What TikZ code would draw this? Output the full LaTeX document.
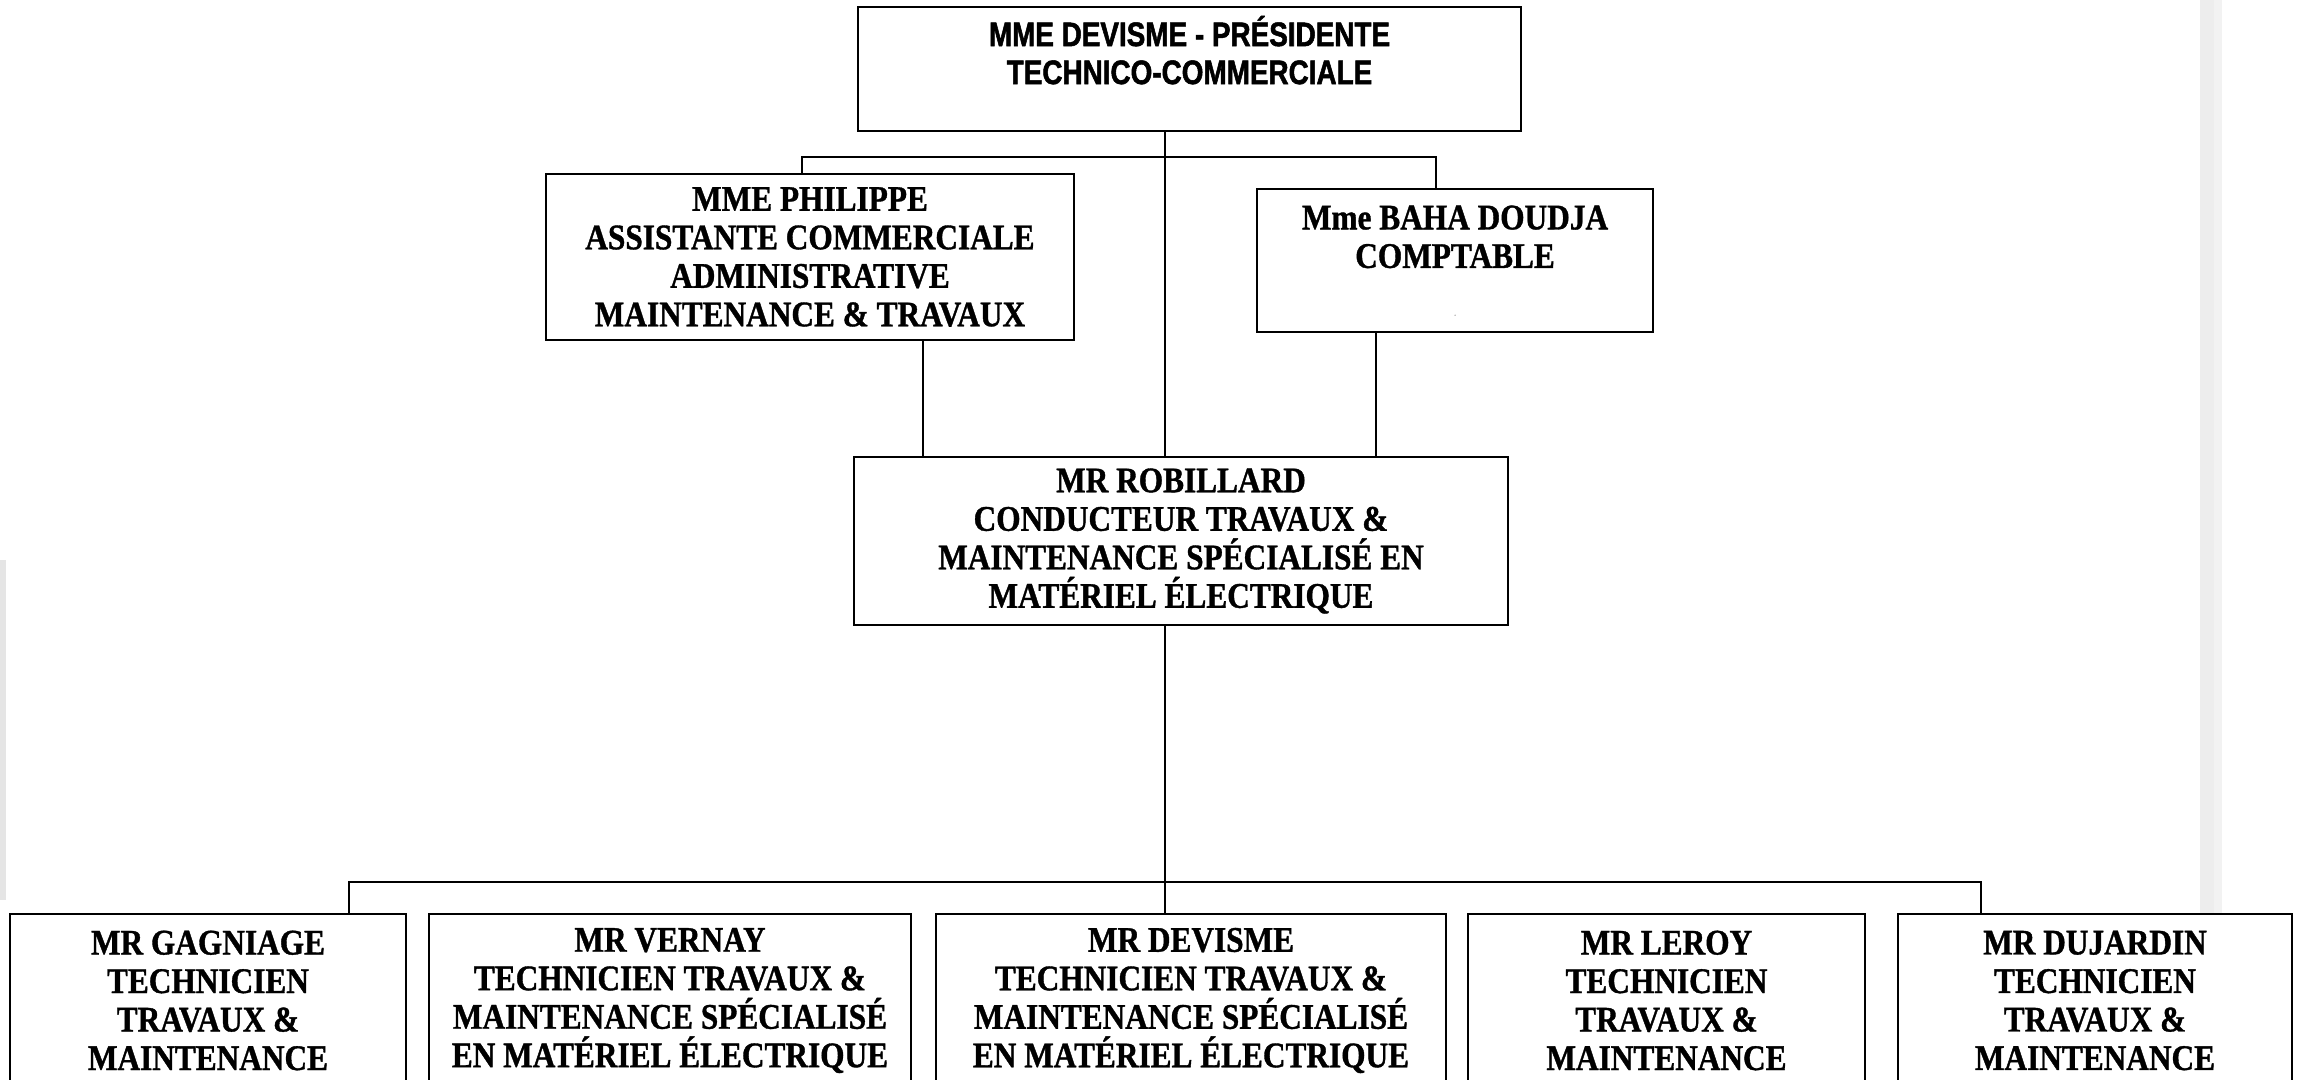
\documentclass[tikz,border=0pt]{standalone}
\usepackage{fontspec}
\setmainfont{Liberation Serif}[FakeStretch=0.87,FakeBold=1]
\newfontfamily\titlesans{Liberation Sans}[FakeStretch=0.82,FakeBold=1.5]
\begin{document}
\begin{tikzpicture}[x=1pt,y=-1pt,
  orgbox/.style={draw=black,line width=2pt,fill=white,anchor=north west,inner sep=0pt,
    align=center,font=\fontsize{36}{38.5}\selectfont\bfseries},
  titlebox/.style={orgbox,font=\fontsize{34}{38}\selectfont\titlesans\bfseries},
  link/.style={draw=black,line width=1.8pt},
  thinlink/.style={draw=black,line width=1.4pt}]
\useasboundingbox (0,0) rectangle (2298,1079);
\clip (0,0) rectangle (2298,1079);
% faint background streaks
\fill[black!7] (2200,0) rectangle (2214,1079);
\fill[black!5] (2214,0) rectangle (2222,1079);
\fill[black!10] (0,560) rectangle (6,900);

\node[titlebox,minimum width=663pt,minimum height=124pt] (top) at (857,6)
  {MME DEVISME - PRÉSIDENTE\\TECHNICO-COMMERCIALE\\\mbox{}};
\node[orgbox,minimum width=528pt,minimum height=166pt] (phil) at (545,173)
  {MME PHILIPPE\\ASSISTANTE COMMERCIALE\\ADMINISTRATIVE\\MAINTENANCE \& TRAVAUX};
\node[orgbox,minimum width=396pt,minimum height=143pt] (baha) at (1256,188)
  {Mme BAHA DOUDJA\\COMPTABLE\\[9pt]{\fontsize{4}{5}\selectfont .}};
\node[orgbox,minimum width=654pt,minimum height=168pt] (rob) at (853,456)
  {MR ROBILLARD\\CONDUCTEUR TRAVAUX \&\\MAINTENANCE SPÉCIALISÉ EN\\MATÉRIEL ÉLECTRIQUE};

\node[orgbox,minimum width=396pt,minimum height=173pt] (gag) at (9,913)
  {MR GAGNIAGE\\TECHNICIEN\\TRAVAUX \&\\MAINTENANCE};
\node[orgbox,minimum width=482pt,minimum height=173pt] (ver) at (428,913)
  {MR VERNAY\\TECHNICIEN TRAVAUX \&\\MAINTENANCE SPÉCIALISÉ\\EN MATÉRIEL ÉLECTRIQUE};
\node[orgbox,minimum width=510pt,minimum height=173pt] (dev) at (935,913)
  {MR DEVISME\\TECHNICIEN TRAVAUX \&\\MAINTENANCE SPÉCIALISÉ\\EN MATÉRIEL ÉLECTRIQUE};
\node[orgbox,minimum width=397pt,minimum height=173pt] (ler) at (1467,913)
  {MR LEROY\\TECHNICIEN\\TRAVAUX \&\\MAINTENANCE};
\node[orgbox,minimum width=394pt,minimum height=173pt] (duj) at (1897,913)
  {MR DUJARDIN\\TECHNICIEN\\TRAVAUX \&\\MAINTENANCE};

% upper bus
\coordinate (bA) at (1165,157);
\coordinate (bL) at (802,157);
\coordinate (bR) at (1436,157);
\coordinate (xP) at (923,0);
\coordinate (xB) at (1376,0);
\draw[link] (top.south -| bA) -- (rob.north -| bA);
\draw[link] (phil.north -| bL) -- (bL) -- (bR) -- (baha.north -| bR);
\draw[link] (phil.south -| xP) -- (rob.north -| xP);
\draw[link] (baha.south -| xB) -- (rob.north -| xB);

% lower bus
\coordinate (cM) at (1165,882);
\coordinate (cL) at (349,882);
\coordinate (cR) at (1981,882);
\coordinate (x2) at (832,0);
\coordinate (x4) at (1498,0);
\draw[thinlink] (rob.south -| cM) -- (dev.north -| cM);
\draw[link] (gag.north -| cL) -- (cL) -- (cR) -- (duj.north -| cR);
\draw[link] (ver.north -| x2) -- (ver.north -| x2 |- cM);
\draw[link] (ler.north -| x4) -- (ler.north -| x4 |- cM);
\end{tikzpicture}
\end{document}
